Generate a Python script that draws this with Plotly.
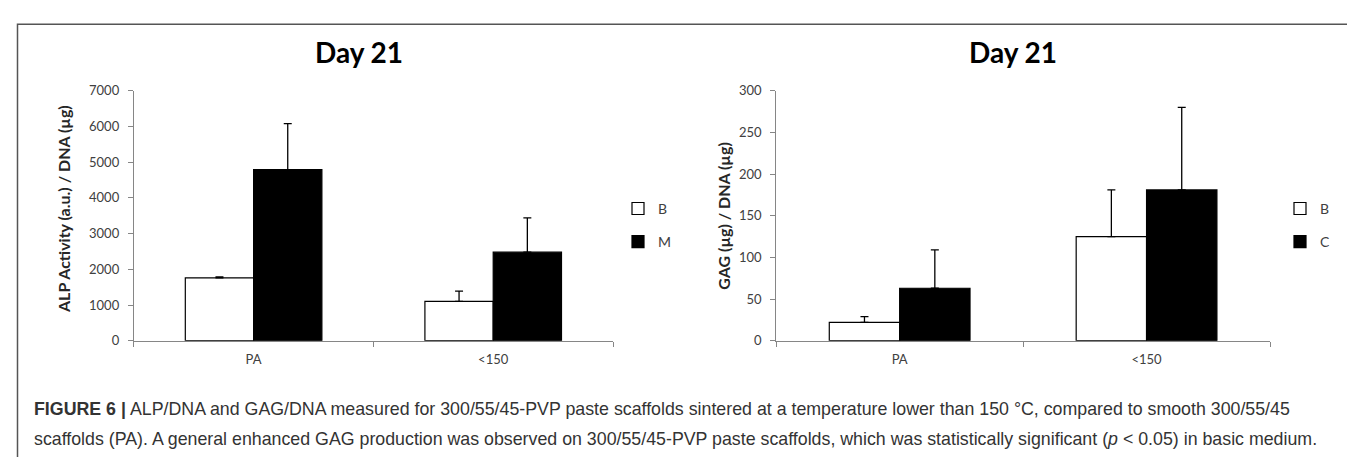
import plotly.graph_objects as go

W, H = 1355, 457

categories = ["PA", "<150"]
tick_labels = ["PA", "&lt;150"]

alp_B = [1760, 1100]
alp_B_err = [30, 290]
alp_M = [4790, 2480]
alp_M_err = [1290, 960]

gag_B = [22, 125]
gag_B_err = [7, 56]
gag_C = [63, 181]
gag_C_err = [46, 99]

alp_yticks = [0, 1000, 2000, 3000, 4000, 5000, 6000, 7000]
gag_yticks = [0, 50, 100, 150, 200, 250, 300]

FONT = "Lato, Open Sans, sans-serif"
AXIS_COLOR = "#868686"


def err(vals):
    return dict(type="data", array=vals, arrayminus=[0] * len(vals), symmetric=False,
                color="black", thickness=1.3, width=4)


fig = go.Figure()

fig.add_trace(go.Bar(x=categories, y=alp_B, name="B", error_y=err(alp_B_err),
                     marker=dict(color="white", line=dict(color="black", width=1.2)),
                     xaxis="x", yaxis="y", legend="legend", legendgroup="b1"))
fig.add_trace(go.Bar(x=categories, y=alp_M, name="M", error_y=err(alp_M_err),
                     marker=dict(color="black", line=dict(color="black", width=1.2)),
                     xaxis="x", yaxis="y", legend="legend", legendgroup="m1"))
fig.add_trace(go.Bar(x=categories, y=gag_B, name="B", error_y=err(gag_B_err),
                     marker=dict(color="white", line=dict(color="black", width=1.2)),
                     xaxis="x2", yaxis="y2", legend="legend2", legendgroup="b2"))
fig.add_trace(go.Bar(x=categories, y=gag_C, name="C", error_y=err(gag_C_err),
                     marker=dict(color="black", line=dict(color="black", width=1.2)),
                     xaxis="x2", yaxis="y2", legend="legend2", legendgroup="c2"))

ydom = [(H - 336.5) / H, (H - 77.5) / H]


def xaxis(dom, anchor):
    return dict(domain=dom, anchor=anchor, type="category", tickvals=categories,
                ticktext=tick_labels, showline=True, linecolor=AXIS_COLOR, linewidth=1,
                ticks="outside", tickson="boundaries", ticklen=5, tickcolor=AXIS_COLOR,
                showgrid=False, zeroline=False,
                tickfont=dict(family=FONT, size=13, color="#404040"),
                ticklabelstandoff=7, fixedrange=True)


def yaxis(rng, ticks, anchor):
    return dict(domain=ydom, anchor=anchor, range=rng, tickvals=ticks,
                showline=True, linecolor=AXIS_COLOR, linewidth=1, ticks="outside",
                ticklen=5, tickcolor=AXIS_COLOR, showgrid=False, zeroline=False,
                tickfont=dict(family=FONT, size=13, color="#404040"),
                ticklabelstandoff=6)


legend_common = dict(font=dict(family=FONT, size=14, color="#404040"),
                     bgcolor="rgba(0,0,0,0)", itemwidth=30, tracegroupgap=12,
                     xanchor="left", yanchor="middle", itemclick=False, itemdoubleclick=False)

title_font = dict(family=FONT, size=28, color="black")
ytitle_font = dict(family=FONT, size=16, color="#262626")
cap_font = dict(family="Liberation Sans, Arial, sans-serif", size=17.8, color="#333333")

annotations = [
    dict(text="<b>Day 21</b>", x=351 / W, y=1 - 37 / H, xref="paper", yref="paper",
         showarrow=False, font=title_font, xanchor="center", yanchor="middle"),
    dict(text="<b>Day 21</b>", x=1005 / W, y=1 - 37 / H, xref="paper", yref="paper",
         showarrow=False, font=title_font, xanchor="center", yanchor="middle"),
    dict(text="<b>ALP Activity (a.u.) / DNA (µg)</b>", x=56 / W, y=1 - 200 / H,
         xref="paper", yref="paper", showarrow=False, textangle=-90, font=ytitle_font,
         xanchor="center", yanchor="middle"),
    dict(text="<b>GAG (µg) / DNA (µg)</b>", x=716 / W, y=1 - 207 / H,
         xref="paper", yref="paper", showarrow=False, textangle=-90, font=ytitle_font,
         xanchor="center", yanchor="middle"),
    dict(text="<b>FIGURE 6</b> <b>|</b> ALP/DNA and GAG/DNA measured for 300/55/45-PVP paste scaffolds "
              "sintered at a temperature lower than 150 °C, compared to smooth 300/55/45",
         x=24 / W, y=1 - 407 / H, xref="paper", yref="paper", showarrow=False,
         font=cap_font, xanchor="left", yanchor="middle"),
    dict(text="scaffolds (PA). A general enhanced GAG production was observed on 300/55/45-PVP "
              "paste scaffolds, which was statistically significant (<i>p</i> &lt; 0.05) in basic medium.",
         x=24 / W, y=1 - 438 / H, xref="paper", yref="paper", showarrow=False,
         font=cap_font, xanchor="left", yanchor="middle"),
]

shapes = [
    dict(type="rect", xref="paper", yref="paper", x0=9.5 / W, x1=1346.5 / W,
         y0=-0.05, y1=1 - 8.5 / H, line=dict(color="#555555", width=1.5)),
]

fig.update_layout(
    width=W, height=H, margin=dict(l=0, r=0, t=0, b=0),
    paper_bgcolor="white", plot_bgcolor="white",
    barmode="group", bargap=0.43, bargroupgap=0,
    xaxis=xaxis([125.8 / W, 605 / W], "y"),
    yaxis=yaxis([0, 7000], alp_yticks, "x"),
    xaxis2=xaxis([768.2 / W, 1262 / W], "y2"),
    yaxis2=yaxis([0, 300], gag_yticks, "x2"),
    legend=dict(x=610 / W, y=1 - 217 / H, **legend_common),
    legend2=dict(x=1272 / W, y=1 - 217 / H, **legend_common),
    annotations=annotations, shapes=shapes, showlegend=True,
)

fig.write_html("out.html")
